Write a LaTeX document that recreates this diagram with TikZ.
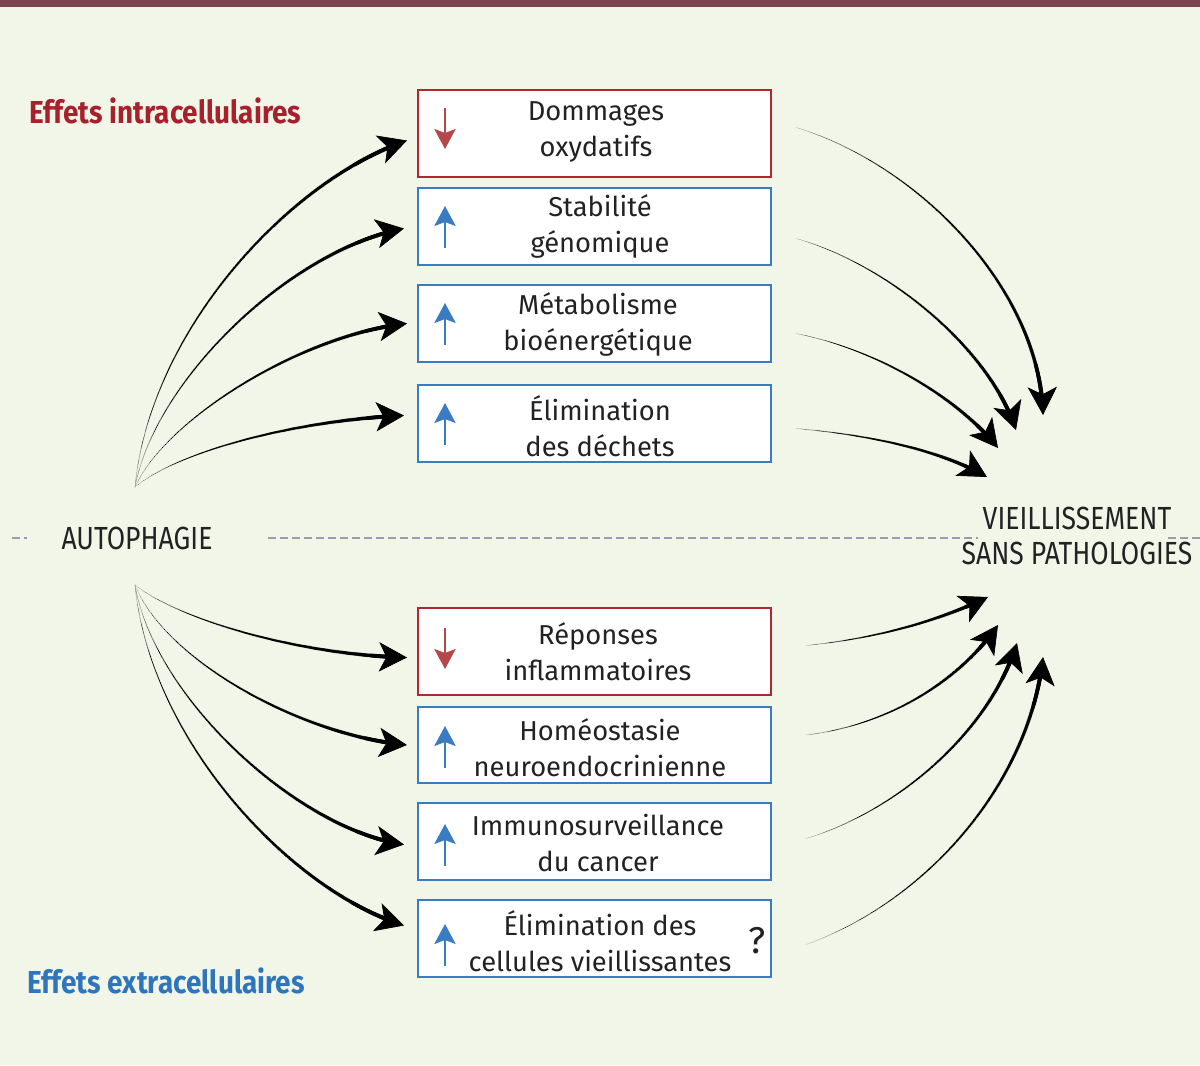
\documentclass[tikz,border=0pt]{standalone}
\usepackage{fontspec}
\setmainfont{Fira Sans}
\newfontfamily\condfont{Fira Sans}[FakeStretch=0.83]
\newfontfamily\headfont{Fira Sans}[FakeStretch=0.88]
\usetikzlibrary{arrows.meta,decorations.markings}
\definecolor{bg}{HTML}{F1F6E9}
\definecolor{topbar}{HTML}{7B4552}
\definecolor{boxred}{HTML}{B0282E}
\definecolor{boxblue}{HTML}{3A7CC2}
\definecolor{iconred}{HTML}{B5474A}
\definecolor{headred}{HTML}{A8202C}
\definecolor{headblue}{HTML}{2F75BB}
\definecolor{dashgrey}{HTML}{9B9CAB}
\definecolor{txt}{HTML}{222222}
\tikzset{
  effbox/.style={draw=#1, fill=white, line width=1.5pt, minimum width=264.75pt, inner sep=0pt},
  boxtext/.style={text=txt, align=center, font=\fontsize{20.5}{27}\selectfont},
  captext/.style={text=txt, align=center, font=\condfont\fontsize{24}{26.5}\selectfont},
  headtext/.style={text=#1, anchor=west, font=\headfont\bfseries\fontsize{23.8}{26}\selectfont},
  icon/.style={draw=#1, line width=1.5pt, -{Stealth[length=15pt,width=16pt,inset=3pt]}},
  taper/.style={
    draw=black, line width=0.5pt, dash pattern=on 0pt off 2000pt,
    -{Stealth[length=21pt,width=22pt,inset=5.5pt]},
    postaction={decorate},
    decoration={markings,
      mark=between positions 0 and 0.97 step 0.8pt with {
        \pgfmathsetmacro\tr{0.15+1.55*\pgfkeysvalueof{/pgf/decoration/mark info/distance from start}/\pgfdecoratedpathlength}
        \fill (0,0) circle (\tr pt);}}
  },
  sepline/.style={draw=dashgrey, line width=1.5pt, dash pattern=on 6pt off 3pt}
}
\begin{document}
\begin{tikzpicture}[x=0.75pt,y=-0.75pt]
\fill[bg] (0,0) rectangle (1200,1065);
\useasboundingbox (0,0) rectangle (1200,1065);
\fill[topbar] (0,0) rectangle (1200,7);

% separator
\draw[sepline] (12,538) -- (27,538);
\draw[sepline] (268,538) -- (978,538);
\draw[sepline] (1168,538) -- (1200,538);

% headings
\node[headtext=headred] (hin) at (25,111) {Effets intracellulaires};
\node[headtext=headblue] (hex) at (23,981) {Effets extracellulaires};

% central labels
\node[captext] (auto) at (137,538) {AUTOPHAGIE};
\node[captext] (vieil) at (1077,536) {VIEILLISSEMENT\\SANS PATHOLOGIES};

% boxes
\node[effbox=boxred, minimum height=65.25pt] (b1) at (594.5,133.5) {};
\node[effbox=boxblue, minimum height=57.75pt] (b2) at (594.5,226.5) {};
\node[effbox=boxblue, minimum height=57.75pt] (b3) at (594.5,323.5) {};
\node[effbox=boxblue, minimum height=57.75pt] (b4) at (594.5,423.5) {};
\node[effbox=boxred, minimum height=65.25pt] (b5) at (594.5,651.5) {};
\node[effbox=boxblue, minimum height=57pt] (b6) at (594.5,745) {};
\node[effbox=boxblue, minimum height=57.75pt] (b7) at (594.5,841.5) {};
\node[effbox=boxblue, minimum height=57.75pt] (b8) at (594.5,938.5) {};

% box texts
\node[boxtext] (t1) at (596,132) {Dommages\\oxydatifs};
\node[boxtext] (t2) at (600,226) {Stabilité\\génomique};
\node[boxtext] (t3) at (598,324) {Métabolisme\\bioénergétique};
\node[boxtext] (t4) at (600,426) {Élimination\\des déchets};
\node[boxtext] (t5) at (598,652) {Réponses\\inflammatoires};
\node[boxtext] (t6) at (600,748) {Homéostasie\\neuroendocrinienne};
\node[boxtext] (t7) at (598,843) {Immunosurveillance\\du cancer};
\node[boxtext] (t8) at (600,941) {Élimination des\\cellules vieillissantes};
\node[text=txt, font=\fontsize{28}{30}\selectfont] (q) at (757,941) {?};

% icons
\draw[icon=iconred] (445,108) -- (445,149);
\draw[icon=boxblue] (445,248) -- (445,206);
\draw[icon=boxblue] (445,345) -- (445,303);
\draw[icon=boxblue] (445,445) -- (445,403);
\draw[icon=iconred] (445,628) -- (445,669);
\draw[icon=boxblue] (445,768) -- (445,726);
\draw[icon=boxblue] (445,866) -- (445,824);
\draw[icon=boxblue] (445,966) -- (445,924);

% fan origins and targets
\coordinate (s1) at (135,487);
\coordinate (s2) at (135,585);
\coordinate (g1) at (1043,415);
\coordinate (g2) at (1016,430);
\coordinate (g3) at (998,448);
\coordinate (g4) at (987,477);
\coordinate (g5) at (988,597);
\coordinate (g6) at (998,625);
\coordinate (g7) at (1017,643);
\coordinate (g8) at (1043,657);

% left fans
\path[taper] (s1) .. controls (150,330) and (290,180) .. ([shift={(-10,7)}]b1.west);
\path[taper] (s1) .. controls (155,380) and (290,250) .. ([shift={(-13,2)}]b2.west);
\path[taper] (s1) .. controls (165,420) and (300,335) .. ([shift={(-10,0)}]b3.west);
\path[taper] (s1) .. controls (180,450) and (300,420) .. ([shift={(-13,-8)}]b4.west);
\path[taper] (s2) .. controls (180,620) and (300,655) .. ([shift={(-10,6)}]b5.west);
\path[taper] (s2) .. controls (165,660) and (300,735) .. ([shift={(-10,0)}]b6.west);
\path[taper] (s2) .. controls (155,700) and (300,830) .. ([shift={(-13,3)}]b7.west);
\path[taper] (s2) .. controls (150,740) and (290,890) .. ([shift={(-13,-13)}]b8.west);

% right fans
\path[taper] ([shift={(24,-6)}]b1.east) .. controls (920,165) and (1040,290) .. (g1);
\path[taper] ([shift={(24,12)}]b2.east) .. controls (890,265) and (990,350) .. (g2);
\path[taper] ([shift={(24,10)}]b3.east) .. controls (880,350) and (960,400) .. (g3);
\path[taper] ([shift={(24,5)}]b4.east) .. controls (870,435) and (940,450) .. (g4);
\path[taper] ([shift={(34,-6)}]b5.east) .. controls (880,638) and (940,620) .. (g5);
\path[taper] ([shift={(34,-10)}]b6.east) .. controls (890,725) and (960,680) .. (g6);
\path[taper] ([shift={(34,-3)}]b7.east) .. controls (900,810) and (990,730) .. (g7);
\path[taper] ([shift={(34,6)}]b8.east) .. controls (930,900) and (1030,780) .. (g8);
\end{tikzpicture}
\end{document}
